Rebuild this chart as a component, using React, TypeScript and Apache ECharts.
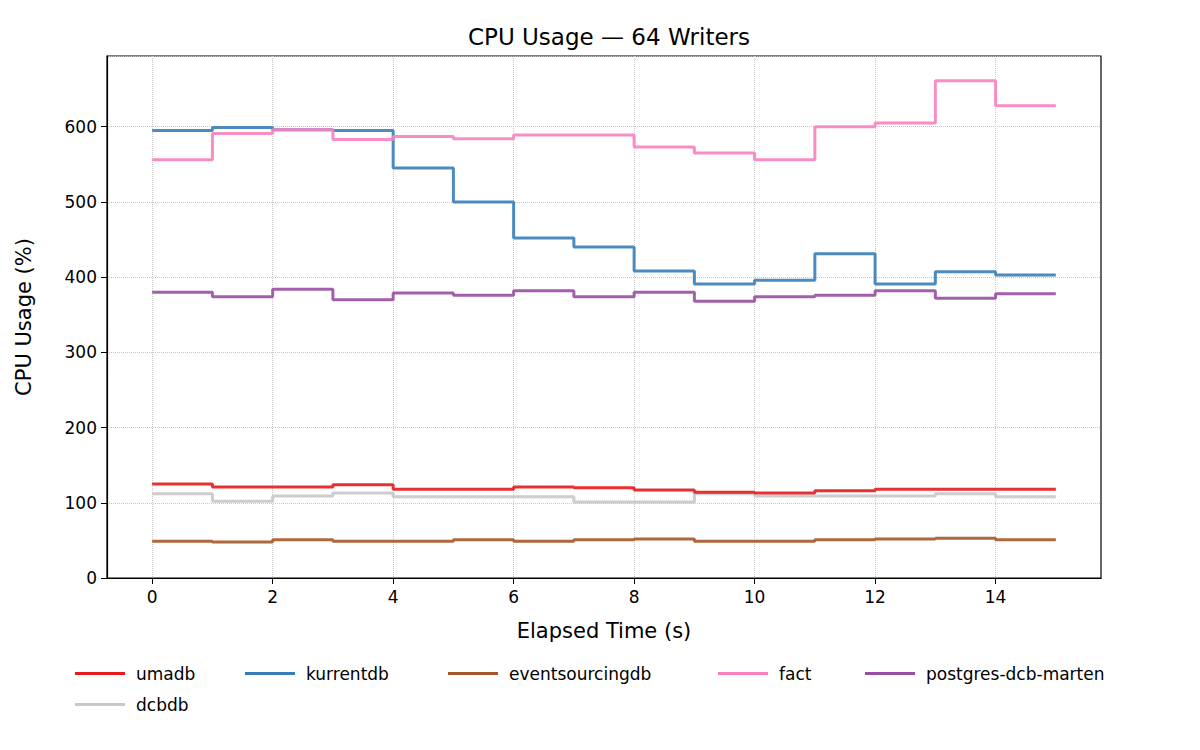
import React, { useEffect, useRef } from "react";
import * as echarts from "echarts";

const times = [0, 1, 2, 3, 4, 5, 6, 7, 8, 9, 10, 11, 12, 13, 14, 15];
const seriesNames = ["umadb", "kurrentdb", "eventsourcingdb", "fact", "postgres-dcb-marten", "dcbdb"];
const colors = ["#e41a1c", "#377eb8", "#a65628", "#f781bf", "#984ea3", "#c8c8c8"];
const umadb = [125, 121, 121, 124, 118, 118, 121, 120, 117, 114, 113, 116, 118, 118, 118, 118];
const kurrentdb = [595, 599, 596, 595, 545, 500, 452, 440, 408, 391, 396, 431, 391, 407, 403, 403];
const eventsourcingdb = [49, 48, 51, 49, 49, 51, 49, 51, 52, 49, 49, 51, 52, 53, 51, 51];
const fact = [556, 591, 596, 583, 587, 584, 589, 589, 573, 565, 556, 600, 605, 661, 628, 628];
const postgres = [380, 374, 384, 370, 379, 376, 382, 374, 380, 368, 374, 376, 382, 372, 378, 378];
const dcbdb = [112, 102, 109, 113, 108, 108, 108, 101, 101, 112, 109, 109, 109, 112, 108, 108];
const allValues = [umadb, kurrentdb, eventsourcingdb, fact, postgres, dcbdb];
const xTicks = [0, 2, 4, 6, 8, 10, 12, 14];
const legendPos = [
  { left: 70, top: 660 },
  { left: 240, top: 660 },
  { left: 443, top: 660 },
  { left: 713, top: 660 },
  { left: 860, top: 660 },
  { left: 70, top: 691 },
];

const font = "DejaVu Sans";

export default function App() {
  const chartRef = useRef<HTMLDivElement>(null);

  useEffect(() => {
    if (!chartRef.current) return;
    const chart = echarts.init(chartRef.current, null, { renderer: "svg" });
    chart.setOption({
      animation: false,
      textStyle: { fontFamily: font },
      title: {
        text: "CPU Usage — 64 Writers",
        left: 604,
        top: 20,
        textAlign: "center",
        textStyle: { fontFamily: font, fontSize: 23, fontWeight: "normal", color: "#000" },
      },
      legend: seriesNames.map((name, i) => ({
        data: [name],
        left: legendPos[i].left,
        top: legendPos[i].top,
        icon: "rect",
        itemWidth: 50,
        itemHeight: 3,
        itemGap: 10,
        textStyle: { fontFamily: font, fontSize: 17, color: "#000", padding: [0, 0, 0, 6] },
      })),
      grid: {
        left: 107,
        right: 99,
        top: 56,
        bottom: 172,
        show: true,
        borderColor: "#000",
        borderWidth: 1.2,
      },
      xAxis: {
        type: "value",
        min: -0.75,
        max: 15.75,
        interval: 0.25,
        name: "Elapsed Time (s)",
        nameLocation: "middle",
        nameGap: 42,
        nameTextStyle: { fontFamily: font, fontSize: 21, color: "#000" },
        axisLine: { onZero: false, lineStyle: { color: "#000", width: 1.2 } },
        axisTick: { customValues: xTicks, length: 6, lineStyle: { color: "#000" } },
        axisLabel: { customValues: xTicks, fontSize: 17, color: "#000", margin: 10 },
        splitLine: { show: true, lineStyle: { type: "dotted", color: "#c8c8c8" } },
      },
      yAxis: {
        type: "value",
        min: 0,
        max: 694,
        interval: 100,
        name: "CPU Usage (%)",
        nameLocation: "middle",
        nameGap: 73,
        nameTextStyle: { fontFamily: font, fontSize: 21, color: "#000" },
        axisLine: { show: true, onZero: false, lineStyle: { color: "#000", width: 1.2 } },
        axisTick: { show: true, length: 6, lineStyle: { color: "#000" } },
        axisLabel: { fontSize: 17, color: "#000", margin: 10, showMaxLabel: false },
        splitLine: { show: true, lineStyle: { type: "dotted", color: "#c8c8c8" } },
      },
      series: seriesNames.map((name, i) => ({
        name,
        type: "line",
        step: "end",
        showSymbol: false,
        color: colors[i],
        lineStyle: { width: 3, opacity: 0.9 },
        data: times.map((t, j) => [t, allValues[i][j]]),
        z: i === 5 ? 1 : 2,
      })),
    });
    return () => chart.dispose();
  }, []);

  return (
    <div
      ref={chartRef}
      style={{ position: "fixed", left: 0, top: 0, width: 1200, height: 750, background: "#fff" }}
    />
  );
}
